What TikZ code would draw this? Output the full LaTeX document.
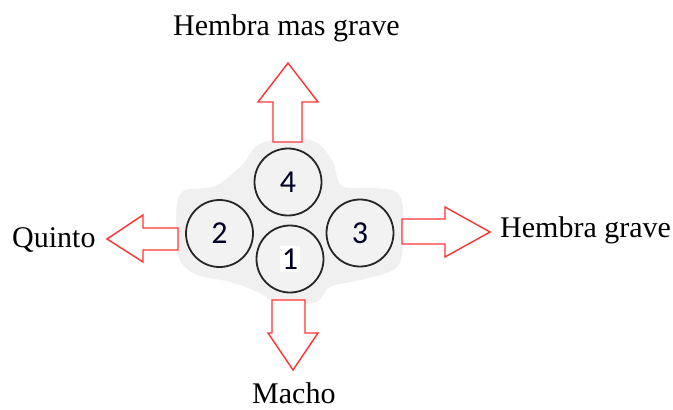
\documentclass[tikz,border=0pt]{standalone}
\usepackage{fontspec}
\setmainfont{Liberation Serif}
\newfontfamily\digitfont{Carlito}
\begin{document}
\begin{tikzpicture}[x=1pt,y=-1pt,
  drum/.style={circle,draw=black!85,line width=1.8pt,fill=black!5,minimum size=67pt,inner sep=0pt,
    font=\digitfont\fontsize{32}{34}\selectfont,text=black!85!blue},
  lbl/.style={anchor=base west,inner sep=0pt,font=\fontsize{30}{34}\selectfont},
  bigarrow/.style={draw=red!80,line width=1.4pt,fill=white,line join=miter}]
\useasboundingbox (0,0) rectangle (673,410);
% background blob
\fill[black!6] plot[smooth cycle,tension=0.6] coordinates {
 (182,192) (215,186) (242,165) (262,143) (310,140) (332,160) (342,186)
 (375,188) (400,196) (403,240) (396,268) (360,280) (330,287) (316,302)
 (280,304) (258,292) (230,282) (195,274) (178,256) (176,222)};
% drums
\node[drum] (d4) at (288,182) {4};
\node[drum] (d2) at (219.5,233.5) {2};
\node[drum] (d3) at (360,233) {3};
\node[drum] (d1) at (290,259) {\colorbox{white}{\hspace{-1pt}1\hspace{-1pt}}};
% arrows
\draw[bigarrow] (288,63) -- (318,102) -- (302,102) -- (302,142) -- (273,142) -- (273,102) -- (258,102) -- cycle;
\draw[bigarrow] (107,239) -- (143,215) -- (143,228) -- (178,228) -- (178,250) -- (143,250) -- (143,262) -- cycle;
\draw[bigarrow] (490,232) -- (445,207) -- (445,219) -- (402,219) -- (402,244) -- (445,244) -- (445,257) -- cycle;
\draw[bigarrow] (293,370) -- (318,333) -- (305,333) -- (305,300) -- (272,300) -- (272,333) -- (268,333) -- cycle;
% labels
\node[lbl] (top) at (173,35) {Hembra mas grave};
\node[lbl] (right) at (500,237) {Hembra grave};
\node[lbl] (left) at (12,247) {Quinto};
\node[lbl] (bottom) at (252,403) {Macho};
\end{tikzpicture}
\end{document}
